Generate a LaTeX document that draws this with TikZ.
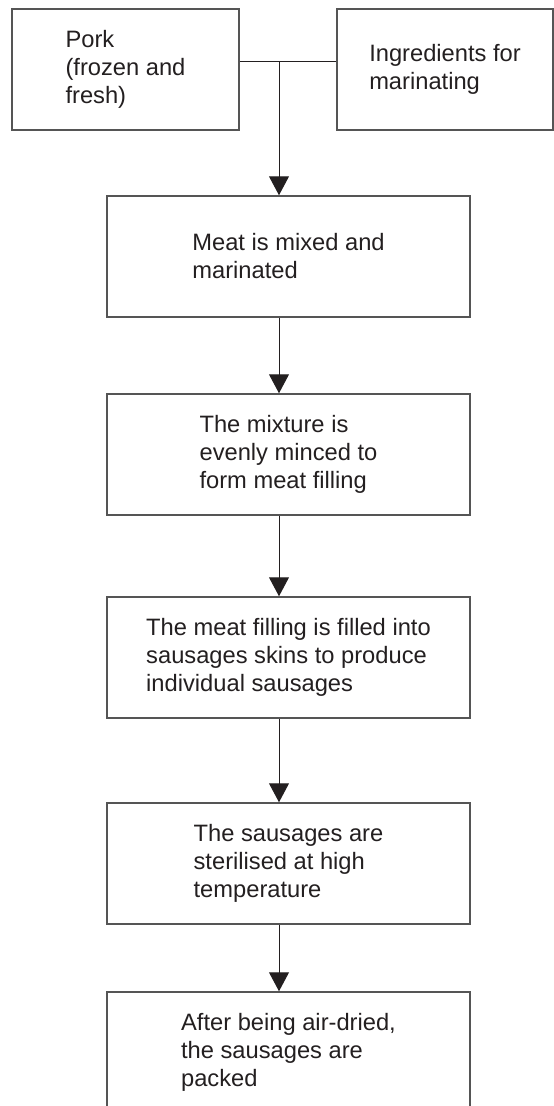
\documentclass[tikz,border=0pt]{standalone}
\usepackage{fontspec}
\setmainfont{Liberation Sans}
\usetikzlibrary{arrows.meta}
\definecolor{boxline}{RGB}{85,85,85}
\definecolor{ink}{RGB}{35,31,32}
\begin{document}
\begin{tikzpicture}[x=1pt,y=-1pt,
  stepbox/.style={draw=boxline, line width=1.5pt, rectangle, inner sep=0pt,
    align=left, text=ink, font=\fontsize{23.7}{28}\selectfont},
  wide/.style={stepbox, minimum width=363pt, minimum height=121pt},
  flow/.style={draw=ink, line width=1pt, -{Triangle[width=20pt,length=19pt]}},
  joinline/.style={draw=ink, line width=1pt}]
\useasboundingbox (0,0) rectangle (554,1106);
\clip (0,0) rectangle (554,1106);

% inputs
\node[stepbox, minimum width=227pt, minimum height=121pt] (pork) at (125.5,69.5)
  {Pork\\(frozen and\\fresh)};
\node[stepbox, minimum width=216pt, minimum height=121pt] (ingr) at (445,69.5)
  {Ingredients for\\marinating};

% process steps
\node[wide] (mix)    at (288.5,256.5)  {Meat is mixed and\\marinated};
\node[wide] (mince)  at (288.5,454.5)  {The mixture is\\evenly minced to\\form meat filling};
\node[wide] (fill)   at (288.5,657.5)  {The meat filling is filled into\\sausages skins to produce\\individual sausages};
\node[wide] (steril) at (288.5,863.5)  {The sausages are\\sterilised at high\\temperature};
\node[wide] (pack)   at (288.5,1052.5) {After being air-dried,\\the sausages are\\packed};

% connectors
\coordinate (ax) at (279,0);
\coordinate (jn) at (279,61);
\draw[joinline] (pork.east |- jn) -- (ingr.west |- jn);
\draw[flow] (jn) -- (mix.north -| ax);
\draw[flow] (mix.south -| ax) -- (mince.north -| ax);
\draw[flow] (mince.south -| ax) -- (fill.north -| ax);
\draw[flow] (fill.south -| ax) -- (steril.north -| ax);
\draw[flow] (steril.south -| ax) -- (pack.north -| ax);
\end{tikzpicture}
\end{document}
